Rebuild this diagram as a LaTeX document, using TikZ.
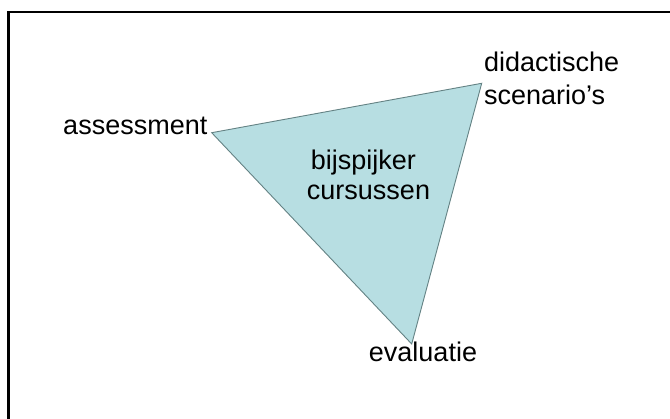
\documentclass[tikz,border=0pt]{standalone}
\usepackage{fontspec}
\setmainfont{Liberation Sans}
\definecolor{trifill}{RGB}{183,222,226}
\definecolor{triedge}{RGB}{100,130,132}
\begin{document}
\begin{tikzpicture}[x=1pt,y=-1pt,
  lbl/.style={inner sep=0pt,font=\fontsize{27}{33}\selectfont,text=black},
  tri/.style={fill=trifill,draw=triedge,line width=0.9pt,line join=miter}]
\useasboundingbox (0,0) rectangle (670,419);
\fill[white] (0,0) rectangle (670,419);
% frame, running off the right and bottom edges
\draw[line width=2.2pt] (8.5,440) -- (8.5,12) -- (690,12);
% corners of the triangle
\coordinate (as) at (211.7,132.7);
\coordinate (di) at (481.7,83.3);
\coordinate (ev) at (411.7,344);
\draw[tri] (as) -- (di) -- (ev) -- cycle;
% labels
\node[lbl,anchor=base east] (asl) at (207.5,135) {assessment};
\node[lbl,anchor=base west] (dil1) at (484,72) {didactische};
\node[lbl,anchor=base west] (dil2) at (484,105) {scenario’s};
\node[lbl,anchor=base] (evl) at (423,361.5) {evaluatie};
\node[lbl,anchor=base] (cen1) at (363.5,170) {bijspijker};
\node[lbl,anchor=base] (cen2) at (368.5,200) {cursussen};
\end{tikzpicture}
\end{document}
